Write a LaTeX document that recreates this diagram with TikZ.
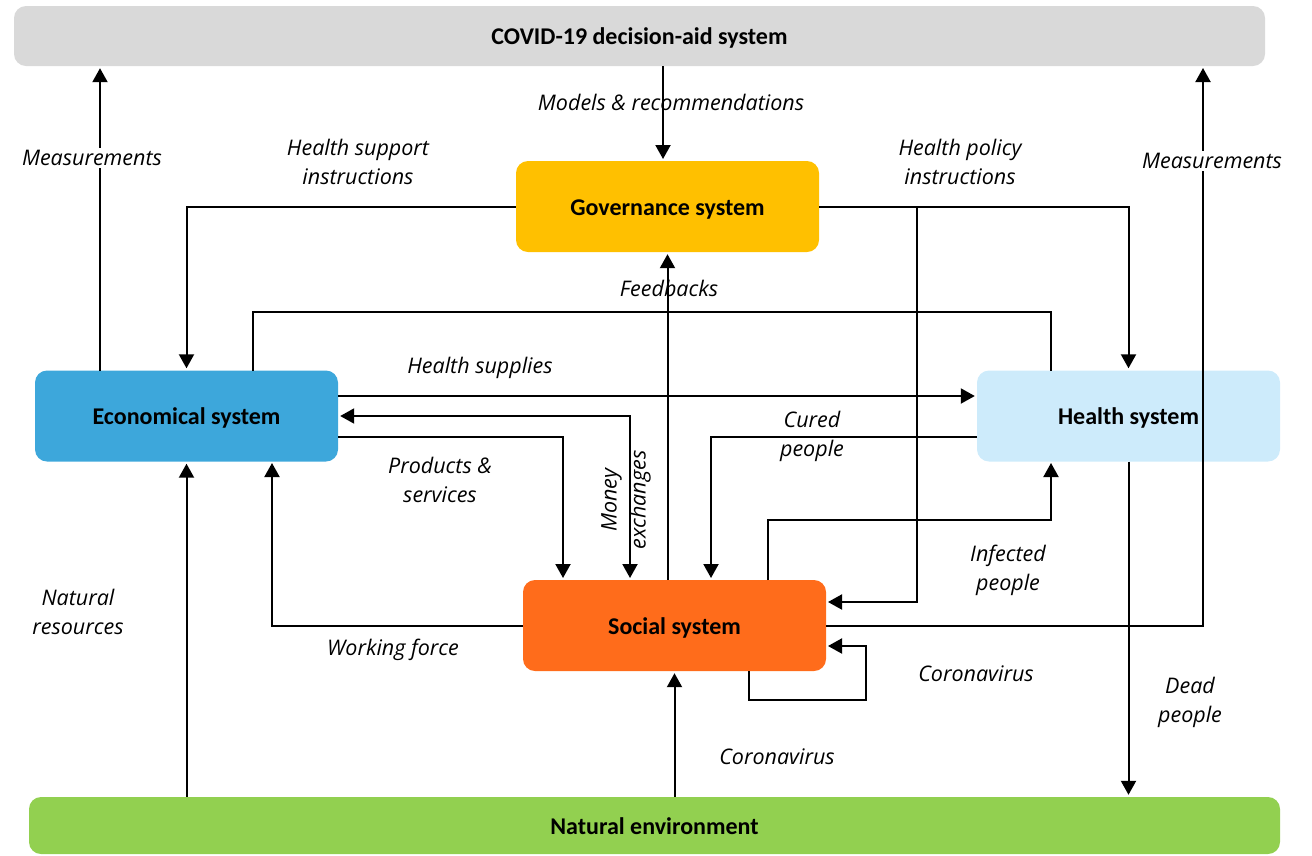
\documentclass[tikz,border=0pt]{standalone}
\usepackage{fontspec}
\setmainfont{Carlito}
\newfontfamily\labelfont{Open Sans}
\usetikzlibrary{arrows.meta,positioning}
\definecolor{covidgray}{HTML}{D9D9D9}
\definecolor{govyellow}{HTML}{FFC000}
\definecolor{econblue}{HTML}{3DA7DB}
\definecolor{healthblue}{HTML}{CDEBFB}
\definecolor{socialorange}{HTML}{FF6C1B}
\definecolor{natgreen}{HTML}{92D050}
\tikzset{%
	sysbox/.style   = {rectangle, rounded corners=12pt, minimum width=303pt, minimum height=91pt, inner sep=0pt, text height=18pt, text depth=1pt, font=\fontsize{24}{28}\selectfont\bfseries}, % System
	widebox/.style  = {sysbox, minimum width=1251pt, minimum height=60pt}, % Top and bottom
	flow/.style     = {line width=2pt, -{Triangle[length=14pt,width=15pt]}, shorten >=2pt},
	twoway/.style   = {line width=2pt, {Triangle[length=14pt,width=15pt]}-{Triangle[length=14pt,width=15pt]}, shorten >=2pt, shorten <=2pt},
	link/.style     = {line width=2pt},
	lbl/.style      = {font=\labelfont\itshape\fontsize{21.5}{29}\selectfont, align=center, inner sep=2pt},
}

\begin{document}
\begin{tikzpicture}[x=1pt, y=-1pt]
	\useasboundingbox (0,0) rectangle (1312,855);
	% systems
	\node[widebox, fill=covidgray] (covid) at (639.5,36) {COVID-19 decision-aid system};
	\node[sysbox, fill=govyellow] (gov) at (667.5,206.5) {Governance system};
	\node[sysbox, fill=econblue] (econ) at (186.5,416) {Economical system};
	\node[sysbox, fill=healthblue] (health) at (1128.5,416) {Health system};
	\node[sysbox, fill=socialorange] (social) at (674.5,625.5) {Social system};
	\node[widebox, fill=natgreen, minimum height=57pt] (nature) at (654.5,825.5) {Natural environment};
	% attachment points
	\coordinate (econ-m) at (100,371);
	\coordinate (econ-l) at (253,371);
	\coordinate (econ-hs) at (338,396);
	\coordinate (econ-ps) at (338,437);
	\coordinate (econ-wf) at (272,461);
	\coordinate (health-l) at (1051,371);
	\coordinate (health-cp) at (977,437);
	\coordinate (health-ip) at (1051,461);
	\coordinate (social-ps) at (563,580);
	\coordinate (social-me) at (630,580);
	\coordinate (social-cp) at (711,580);
	\coordinate (social-ip) at (768,580);
	\coordinate (social-gp) at (826,602);
	\coordinate (social-lo) at (749,671);
	\coordinate (social-li) at (826,646);
	\coordinate (gov-br) at (917,206.5);
	\coordinate (gov-mo) at (663,161);
	\coordinate (covid-mo) at (663,66);
	\coordinate (covid-mr) at (1203,66);
	% connectors
	\draw[flow] (econ-m) -- (econ-m |- covid.south);
	\draw[flow] (social.east) -| (covid-mr);
	\draw[flow] (covid-mo) -- (gov-mo);
	\draw[flow] (gov.west) -| (econ.north);
	\draw[flow] (gov.east) -| (health.north);
	\draw[flow] (gov-br) |- (social-gp);
	\draw[flow] (social.north -| gov.south) -- (gov.south);
	\draw[link] (econ-l) -- ++(0,-59) -| (health-l);
	\draw[flow] (econ-hs) -- (econ-hs -| health.west);
	\draw[twoway] (econ.east) -| (social-me);
	\draw[flow] (econ-ps) -| (social-ps);
	\draw[flow] (health-cp) -| (social-cp);
	\draw[flow] (social-ip) -- ++(0,-60) -| (health-ip);
	\draw[flow] (health.south) -- (health.south |- nature.north);
	\draw[flow] (social.west) -| (econ-wf);
	\draw[flow] (nature.north -| econ.south) -- (econ.south);
	\draw[flow] (nature.north -| social.south) -- (social.south);
	\draw[flow] (social-lo) -- ++(0,29) -- ++(117,0) |- (social-li);
	% labels
	\node[lbl, fill=white] (l-meas1) at (92,158) {Measurements};
	\node[lbl, fill=white] (l-meas2) at (1212,161) {Measurements};
	\node[lbl] (l-models) at (671,102) {Models \& recommendations};
	\node[lbl] (l-support) at (358,162) {Health support\\instructions};
	\node[lbl] (l-policy) at (960,162) {Health policy\\instructions};
	\node[lbl] (l-feed) at (669,288) {Feedbacks};
	\node[lbl] (l-supplies) at (480,368) {Health supplies};
	\node[lbl] (l-products) at (440,480) {Products \&\\services};
	\node[lbl, rotate=90] (l-money) at (626,500) {Money\\exchanges};
	\node[lbl] (l-cured) at (812,436) {Cured\\people};
	\node[lbl] (l-infected) at (1008,570) {Infected\\people};
	\node[lbl] (l-natres) at (78,612) {Natural\\resources};
	\node[lbl] (l-work) at (393,650) {Working force};
	\node[lbl] (l-corona1) at (976,674) {Coronavirus};
	\node[lbl] (l-corona2) at (777,757) {Coronavirus};
	\node[lbl] (l-dead) at (1190,702) {Dead\\people};
\end{tikzpicture}
\end{document}
